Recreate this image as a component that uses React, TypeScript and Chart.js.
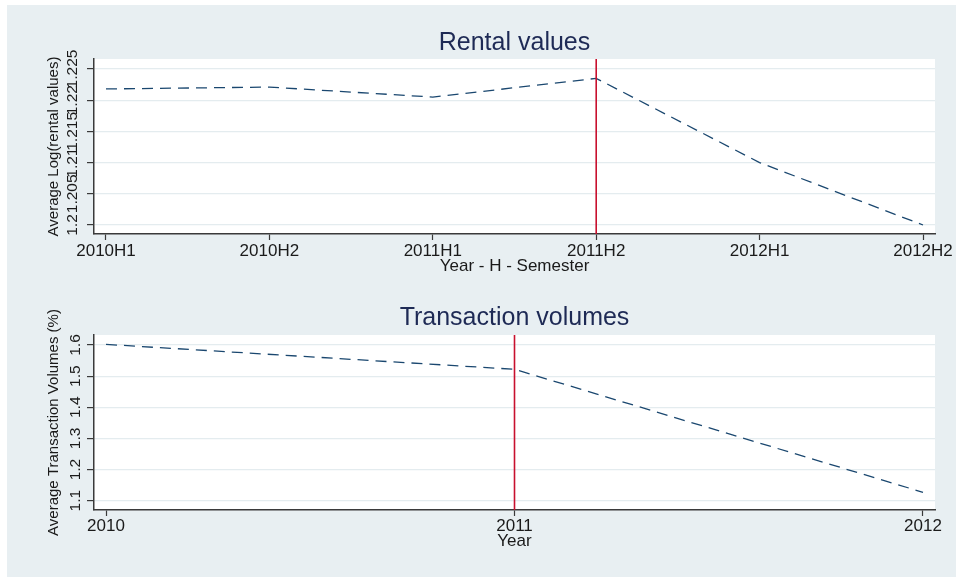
import React, { useEffect, useRef } from 'react';
import { Chart, registerables } from 'chart.js';

Chart.register(...registerables);

// ---------- Data ----------
const semesterLabels = ['2010H1', '2010H2', '2011H1', '2011H2', '2012H1', '2012H2'];
const rentalValues = [1.2218, 1.2221, 1.2205, 1.2235, 1.21, 1.2];
const rentalTicks = [1.2, 1.205, 1.21, 1.215, 1.22, 1.225];
const rentalEventIndex = 3; // 2011H2
const rentalYMin = 1.19856;
const rentalYMax = 1.2266;
const rentalXMin = -0.0734;
const rentalXMax = 5.0734;

const years = [2010, 2011, 2012];
const volumeValues = [1.602, 1.522, 1.127];
const volumeTicks = [1.1, 1.2, 1.3, 1.4, 1.5, 1.6];
const volumeEventYear = 2011;
const volumeYMin = 1.0701;
const volumeYMax = 1.6321;
const volumeXMin = 2009.9706;
const volumeXMax = 2012.0294;

// ---------- Styles ----------
const FONT = '"Liberation Sans", Arial, Helvetica, sans-serif';
const NAVY = '#1a476f';
const RED = '#c8102e';
const TITLE = '#1e2a55';
const TEXT = '#1a1a1a';
const AXIS = '#3a3a3a';
const GRID = '#e4ecef';

const fmt = (v: number) => String(Number(Number(v).toFixed(4)));

const whiteArea = {
  id: 'whiteArea',
  beforeDraw(chart: any) {
    const { ctx, chartArea } = chart;
    ctx.save();
    ctx.fillStyle = '#ffffff';
    ctx.fillRect(chartArea.left, chartArea.top, chartArea.right - chartArea.left, chartArea.bottom - chartArea.top);
    ctx.restore();
  },
};

const rotatedYLabels = (gap: number) => ({
  id: 'rotatedYLabels',
  afterDraw(chart: any) {
    const s = chart.scales.y;
    const ctx = chart.ctx;
    ctx.save();
    ctx.font = `15.5px ${FONT}`;
    ctx.fillStyle = TEXT;
    ctx.textAlign = 'center';
    ctx.textBaseline = 'alphabetic';
    s.ticks.forEach((t: any) => {
      const y = s.getPixelForValue(t.value);
      ctx.save();
      ctx.translate(s.right - gap, y);
      ctx.rotate(-Math.PI / 2);
      ctx.fillText(fmt(t.value), 0, 0);
      ctx.restore();
    });
    ctx.restore();
  },
});

function makeConfig(opts: any) {
  const {
    title, titlePad, xTitle, xTitlePadBottom, xHeight, xTickPad,
    yTitle, xMin, xMax, xTickValues, xLabel, yMin, yMax, yTickValues,
    series, event, yGap,
  } = opts;
  return {
    type: 'line',
    data: {
      datasets: [
        {
          data: [
            { x: event, y: yMin },
            { x: event, y: yMax },
          ],
          borderColor: RED,
          borderWidth: 1.6,
          pointRadius: 0,
          order: 0,
        },
        {
          data: series,
          borderColor: NAVY,
          borderWidth: 1.3,
          borderDash: [11, 7],
          pointRadius: 0,
          tension: 0,
          order: 1,
        },
      ],
    },
    options: {
      animation: false,
      responsive: false,
      devicePixelRatio: 1,
      layout: { padding: { left: 0, right: 21, top: 0, bottom: 0 } },
      plugins: {
        legend: { display: false },
        tooltip: { enabled: false },
        title: {
          display: true,
          text: title,
          color: TITLE,
          fullSize: false,
          font: { family: FONT, size: 25, weight: 'normal', lineHeight: 1 },
          padding: titlePad,
        },
      },
      scales: {
        x: {
          type: 'linear',
          min: xMin,
          max: xMax,
          afterBuildTicks: (s: any) => {
            s.ticks = xTickValues.map((v: number) => ({ value: v }));
          },
          afterFit: (s: any) => {
            s.height = xHeight;
          },
          ticks: {
            autoSkip: false,
            maxRotation: 0,
            minRotation: 0,
            padding: xTickPad,
            color: TEXT,
            font: { family: FONT, size: 17, lineHeight: 1 },
            callback: (v: number) => xLabel(v),
          },
          grid: {
            drawOnChartArea: false,
            drawTicks: true,
            tickLength: 6,
            tickColor: AXIS,
            tickWidth: 1.2,
            color: AXIS,
          },
          border: { display: true, color: AXIS, width: 1.5 },
          title: {
            display: true,
            text: xTitle,
            color: TEXT,
            font: { family: FONT, size: 17, lineHeight: 1 },
            padding: { top: 0, bottom: xTitlePadBottom },
          },
        },
        y: {
          type: 'linear',
          min: yMin,
          max: yMax,
          afterBuildTicks: (s: any) => {
            s.ticks = yTickValues.map((v: number) => ({ value: v }));
          },
          afterFit: (s: any) => {
            s.width = 94;
          },
          ticks: { display: false },
          grid: {
            drawOnChartArea: true,
            drawTicks: true,
            tickLength: 7,
            tickColor: AXIS,
            tickWidth: 1.2,
            color: GRID,
            lineWidth: 1.2,
          },
          border: { display: true, color: AXIS, width: 1.5 },
          title: {
            display: true,
            text: yTitle,
            color: TEXT,
            font: { family: FONT, size: 15, lineHeight: 1 },
            padding: { top: 46.3, bottom: 0 },
          },
        },
      },
    },
    plugins: [whiteArea, rotatedYLabels(yGap)],
  };
}

export default function App() {
  const topRef = useRef<HTMLCanvasElement | null>(null);
  const botRef = useRef<HTMLCanvasElement | null>(null);

  useEffect(() => {
    const topChart = new Chart(
      topRef.current as HTMLCanvasElement,
      makeConfig({
        title: 'Rental values',
        titlePad: { top: 30.5, bottom: 3.5 },
        xTitle: 'Year - H - Semester',
        xTitlePadBottom: 13.9,
        xHeight: 55,
        xTickPad: 2.6,
        yTitle: 'Average Log(rental values)',
        xMin: rentalXMin,
        xMax: rentalXMax,
        xTickValues: semesterLabels.map((_, i) => i),
        xLabel: (v: number) => semesterLabels[Math.round(v)] ?? '',
        yMin: rentalYMin,
        yMax: rentalYMax,
        yTickValues: rentalTicks,
        series: rentalValues.map((v, i) => ({ x: i, y: v })),
        event: rentalEventIndex,
        yGap: 17,
      }) as any
    );
    const botChart = new Chart(
      botRef.current as HTMLCanvasElement,
      makeConfig({
        title: 'Transaction volumes',
        titlePad: { top: 16.5, bottom: 4.5 },
        xTitle: 'Year',
        xTitlePadBottom: 27.9,
        xHeight: 68,
        xTickPad: 1.6,
        yTitle: 'Average Transaction Volumes (%)',
        xMin: volumeXMin,
        xMax: volumeXMax,
        xTickValues: years,
        xLabel: (v: number) => String(v),
        yMin: volumeYMin,
        yMax: volumeYMax,
        yTickValues: volumeTicks,
        series: volumeValues.map((v, i) => ({ x: years[i], y: v })),
        event: volumeEventYear,
        yGap: 14,
      }) as any
    );
    return () => {
      topChart.destroy();
      botChart.destroy();
    };
  }, []);

  return (
    <div style={{ position: 'absolute', left: 0, top: 0, width: 956, height: 578, background: '#ffffff', overflow: 'hidden' }}>
      <div style={{ position: 'absolute', left: 7, top: 5, width: 949, height: 572, background: '#e8eff2' }} />
      <canvas ref={topRef} width={956} height={289} style={{ position: 'absolute', left: 0, top: 0 }} />
      <canvas ref={botRef} width={956} height={289} style={{ position: 'absolute', left: 0, top: 289 }} />
    </div>
  );
}
